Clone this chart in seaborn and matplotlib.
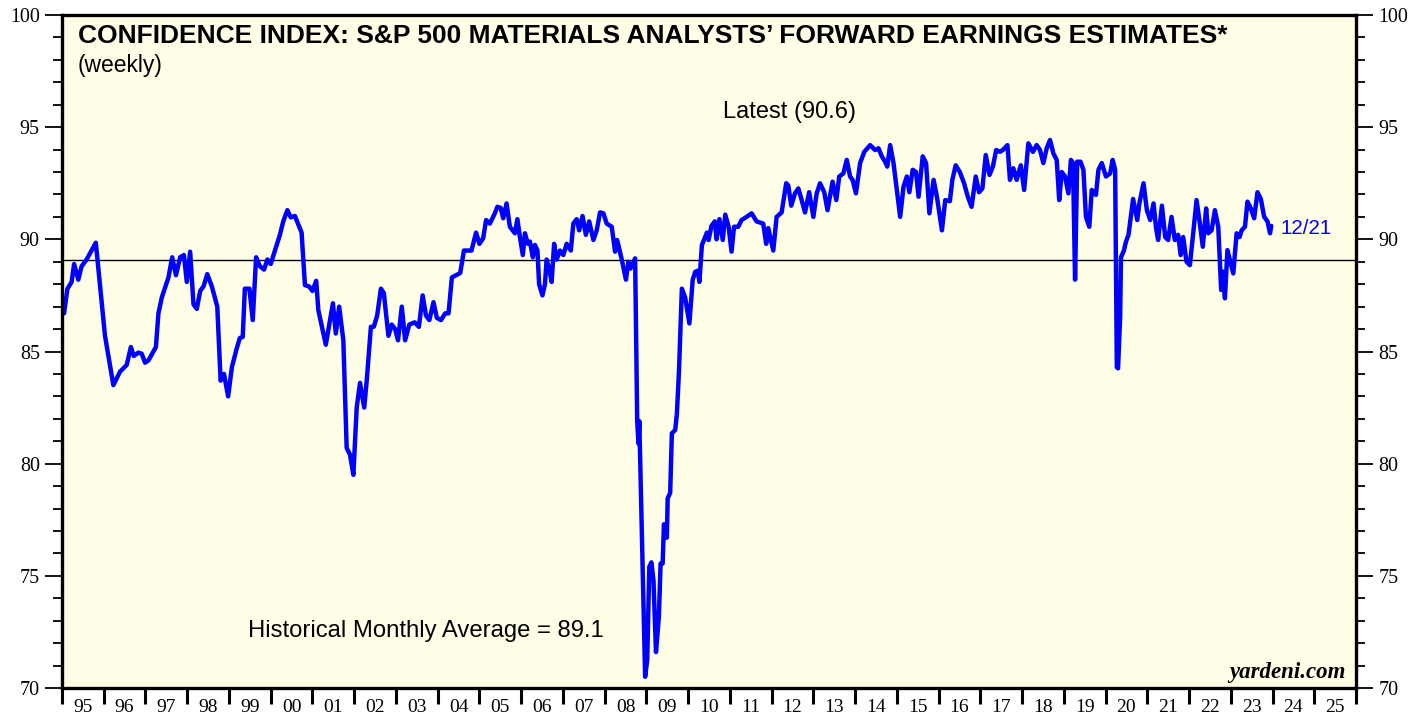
import matplotlib
matplotlib.use("Agg")
import matplotlib.pyplot as plt
import seaborn as sns
import pandas as pd
from matplotlib.ticker import FixedLocator, NullFormatter, FixedFormatter

# weekly readings (decimal year, index value)
week = [
    1995.05, 1995.13, 1995.23, 1995.29, 1995.39, 1995.47, 1995.59, 1995.81,
    1996.03, 1996.23, 1996.39, 1996.55, 1996.65, 1996.72, 1996.83, 1996.91,
    1996.99, 1997.07, 1997.25, 1997.31, 1997.39, 1997.55, 1997.64, 1997.73,
    1997.83, 1997.92, 1997.99, 1998.07, 1998.15, 1998.23, 1998.31, 1998.39,
    1998.48, 1998.59, 1998.72, 1998.80, 1998.88, 1998.98, 1999.07, 1999.18,
    1999.26, 1999.33, 1999.38, 1999.49, 1999.57, 1999.65, 1999.74, 1999.84,
    1999.92, 2000.00, 2000.22, 2000.30, 2000.40, 2000.48, 2000.58, 2000.74,
    2000.82, 2000.92, 2001.00, 2001.09, 2001.14, 2001.32, 2001.49, 2001.56,
    2001.64, 2001.74, 2001.82, 2001.90, 2001.98, 2002.06, 2002.14, 2002.24,
    2002.30, 2002.40, 2002.47, 2002.55, 2002.64, 2002.71, 2002.82, 2002.90,
    2002.98, 2003.05, 2003.14, 2003.22, 2003.32, 2003.45, 2003.55, 2003.64,
    2003.72, 2003.80, 2003.90, 2003.98, 2004.08, 2004.18, 2004.26, 2004.34,
    2004.44, 2004.54, 2004.63, 2004.73, 2004.81, 2004.92, 2005.00, 2005.09,
    2005.16, 2005.25, 2005.37, 2005.43, 2005.51, 2005.57, 2005.65, 2005.73,
    2005.85, 2005.91, 2005.97, 2006.04, 2006.09, 2006.16, 2006.21, 2006.28,
    2006.33, 2006.39, 2006.43, 2006.51, 2006.57, 2006.61, 2006.68, 2006.73,
    2006.79, 2006.85, 2006.93, 2007.01, 2007.09, 2007.19, 2007.25, 2007.33,
    2007.39, 2007.47, 2007.55, 2007.63, 2007.73, 2007.81, 2007.89, 2007.97,
    2008.05, 2008.17, 2008.25, 2008.30, 2008.41, 2008.51, 2008.57, 2008.62,
    2008.73, 2008.78, 2008.81, 2008.83, 2008.97, 2009.02, 2009.07, 2009.12,
    2009.17, 2009.23, 2009.30, 2009.34, 2009.39, 2009.42, 2009.49, 2009.51,
    2009.57, 2009.61, 2009.69, 2009.73, 2009.78, 2009.85, 2009.93, 2010.03,
    2010.11, 2010.17, 2010.23, 2010.27, 2010.33, 2010.38, 2010.45, 2010.49,
    2010.56, 2010.64, 2010.68, 2010.75, 2010.83, 2010.89, 2010.97, 2011.04,
    2011.10, 2011.20, 2011.28, 2011.40, 2011.52, 2011.64, 2011.80, 2011.87,
    2011.92, 2012.04, 2012.12, 2012.24, 2012.35, 2012.40, 2012.47, 2012.56,
    2012.64, 2012.72, 2012.80, 2012.90, 2013.00, 2013.08, 2013.16, 2013.26,
    2013.34, 2013.46, 2013.55, 2013.62, 2013.72, 2013.80, 2013.88, 2013.94,
    2014.02, 2014.12, 2014.22, 2014.36, 2014.48, 2014.56, 2014.64, 2014.72,
    2014.77, 2014.84, 2014.92, 2015.00, 2015.08, 2015.16, 2015.24, 2015.30,
    2015.38, 2015.46, 2015.52, 2015.62, 2015.70, 2015.78, 2015.88, 2015.96,
    2016.08, 2016.16, 2016.27, 2016.33, 2016.41, 2016.51, 2016.61, 2016.70,
    2016.79, 2016.89, 2016.97, 2017.05, 2017.13, 2017.22, 2017.30, 2017.38,
    2017.47, 2017.55, 2017.65, 2017.71, 2017.79, 2017.87, 2017.97, 2018.05,
    2018.15, 2018.26, 2018.35, 2018.43, 2018.51, 2018.59, 2018.67, 2018.75,
    2018.83, 2018.89, 2018.95, 2019.03, 2019.11, 2019.17, 2019.22, 2019.27,
    2019.32, 2019.40, 2019.47, 2019.53, 2019.61, 2019.67, 2019.77, 2019.83,
    2019.91, 2020.01, 2020.11, 2020.17, 2020.23, 2020.27, 2020.30, 2020.35,
    2020.37, 2020.44, 2020.49, 2020.55, 2020.66, 2020.76, 2020.81, 2020.91,
    2020.99, 2021.07, 2021.15, 2021.21, 2021.26, 2021.35, 2021.43, 2021.50,
    2021.58, 2021.66, 2021.74, 2021.80, 2021.86, 2021.94, 2022.02, 2022.10,
    2022.18, 2022.26, 2022.33, 2022.41, 2022.46, 2022.54, 2022.62, 2022.70,
    2022.77, 2022.81, 2022.86, 2022.92, 2023.00, 2023.06, 2023.14, 2023.21,
    2023.26, 2023.34, 2023.40, 2023.48, 2023.56, 2023.64, 2023.72, 2023.80,
    2023.88, 2023.94, 2023.97,
]
confidence = [
    86.7, 87.8, 88.1, 88.9, 88.2, 88.8, 89.1, 89.85,
    85.7, 83.5, 84.1, 84.4, 85.2, 84.8, 84.95, 84.9,
    84.5, 84.6, 85.2, 86.7, 87.4, 88.3, 89.2, 88.4,
    89.2, 89.3, 88.1, 89.45, 87.1, 86.9, 87.7, 87.9,
    88.45, 87.9, 87.0, 83.7, 84.0, 83.0, 84.3, 85.1,
    85.6, 85.65, 87.8, 87.8, 86.4, 89.2, 88.8, 88.65,
    89.1, 88.9, 90.2, 90.8, 91.3, 90.98, 91.04, 90.3,
    87.96, 87.9, 87.7, 88.15, 86.85, 85.3, 87.15, 85.8,
    87.0, 85.5, 80.7, 80.4, 79.5, 82.5, 83.6, 82.5,
    83.7, 86.1, 86.1, 86.6, 87.8, 87.6, 85.7, 86.2,
    86.0, 85.5, 87.0, 85.5, 86.2, 86.3, 86.1, 87.5,
    86.6, 86.4, 87.2, 86.5, 86.4, 86.7, 86.7, 88.3,
    88.4, 88.5, 89.5, 89.5, 89.5, 90.3, 89.8, 90.05,
    90.86, 90.7, 91.16, 91.45, 91.4, 90.94, 91.6, 90.56,
    90.27, 90.9, 90.1, 89.3, 90.27, 89.8, 89.9, 89.2,
    89.75, 89.5, 88.0, 87.5, 88.0, 89.1, 88.6, 88.1,
    89.8, 89.1, 89.5, 89.3, 89.8, 89.5, 90.7, 90.9,
    90.4, 91.04, 90.2, 90.8, 89.97, 90.4, 91.2, 91.16,
    90.7, 90.56, 89.45, 89.97, 89.1, 88.2, 89.0, 88.7,
    89.15, 81.9, 80.9, 81.9, 70.5, 71.24, 75.4, 75.6,
    74.8, 71.6, 73.2, 75.55, 75.55, 77.3, 76.7, 78.45,
    78.7, 81.35, 81.5, 82.2, 84.1, 87.8, 87.4, 86.25,
    88.2, 88.55, 88.6, 88.1, 89.75, 89.97, 90.3, 89.97,
    90.6, 90.8, 90.0, 90.9, 89.97, 91.1, 90.56, 89.45,
    90.56, 90.56, 90.86, 91.0, 91.16, 90.8, 90.7, 89.8,
    90.5, 89.5, 91.0, 91.2, 92.5, 92.4, 91.5, 92.05,
    92.27, 91.75, 91.2, 92.1, 91.0, 92.05, 92.5, 92.1,
    91.3, 92.57, 91.75, 92.8, 92.94, 93.54, 92.8, 92.65,
    92.05, 93.4, 93.9, 94.2, 93.98, 94.06, 93.7, 93.46,
    93.24, 94.2, 93.4, 92.2, 91.0, 92.35, 92.8, 92.1,
    93.1, 93.0, 91.9, 93.7, 93.4, 91.16, 92.65, 91.9,
    90.4, 91.75, 91.7, 92.65, 93.3, 93.0, 92.5, 91.9,
    91.45, 92.8, 92.1, 92.27, 93.76, 92.87, 93.24, 93.98,
    93.9, 94.0, 94.2, 92.65, 93.17, 92.65, 93.3, 92.2,
    94.28, 93.9, 94.2, 93.98, 93.4, 94.06, 94.43, 93.83,
    93.54, 91.75, 93.0, 92.8, 92.05, 93.54, 93.4, 88.2,
    93.46, 93.46, 93.1, 91.0, 90.56, 92.2, 91.98, 93.1,
    93.4, 92.8, 92.94, 93.54, 93.1, 84.3, 84.25, 86.55,
    89.2, 89.5, 89.9, 90.2, 91.8, 90.86, 91.6, 92.5,
    91.3, 90.86, 91.6, 90.5, 89.97, 91.5, 90.1, 89.97,
    91.0, 89.97, 90.2, 89.3, 90.1, 89.0, 88.85, 90.27,
    91.75, 90.7, 89.67, 91.38, 90.27, 90.4, 91.3, 90.56,
    87.74, 88.56, 87.37, 89.52, 88.93, 88.48, 90.27, 90.1,
    90.4, 90.56, 91.68, 91.38, 90.94, 92.1, 91.8, 91.0,
    90.8, 90.27, 90.6,
]
hist_avg = 89.1
latest = 90.6
year_labels = ["95", "96", "97", "98", "99", "00", "01", "02", "03", "04",
               "05", "06", "07", "08", "09", "10", "11", "12", "13", "14",
               "15", "16", "17", "18", "19", "20", "21", "22", "23", "24", "25"]

df = pd.DataFrame({"week": week, "confidence": confidence})

sns.set_style("white")
plt.rcParams["font.family"] = ["Liberation Sans", "DejaVu Sans"]
plt.rcParams["text.color"] = "black"
plt.rcParams["xtick.color"] = "black"
plt.rcParams["ytick.color"] = "black"

fig = plt.figure(figsize=(14.25, 7.19), dpi=100)
ax = fig.add_axes([62 / 1425, 31 / 719, 1294 / 1425, 673 / 719])
ax.set_facecolor("#fefee6")

sns.lineplot(data=df, x="week", y="confidence", ax=ax, color="#0000ff",
             linewidth=3.2, solid_joinstyle="round", solid_capstyle="round")
ax.axhline(hist_avg, color="black", linewidth=1.0, zorder=1)

ax.set_xlim(1995, 2026)
ax.set_ylim(70, 100)
ax.set_xlabel("")
ax.set_ylabel("")

# x axis: year boundary ticks, labels centred in each year
ax.xaxis.set_major_locator(FixedLocator(range(1995, 2027)))
ax.xaxis.set_major_formatter(NullFormatter())
ax.xaxis.set_minor_locator(FixedLocator([1995.5 + i for i in range(len(year_labels))]))
ax.xaxis.set_minor_formatter(FixedFormatter(year_labels))
ax.tick_params(axis="x", which="major", direction="out", length=11.5, width=2.2,
               bottom=True)
ax.tick_params(axis="x", which="minor", length=0, pad=8, labelsize=14,
               labelcolor="black", labelfontfamily="Liberation Serif", bottom=True)

# y axis on both sides
ax.yaxis.set_major_locator(FixedLocator(range(70, 101, 5)))
ax.yaxis.set_minor_locator(FixedLocator(range(70, 101)))
ax.tick_params(axis="y", which="major", direction="out", length=12, width=1.3,
               left=True, right=True, labelleft=True, labelright=True,
               labelsize=14.4, labelcolor="black", pad=4,
               labelfontfamily="Liberation Serif")
ax.tick_params(axis="y", which="minor", direction="out", length=6.5, width=1.3,
               left=True, right=True)

for side in ["left", "right", "top", "bottom"]:
    ax.spines[side].set_visible(True)
    ax.spines[side].set_linewidth(2.4)
    ax.spines[side].set_color("black")

ax.text(0.0124, 0.958,
        "CONFIDENCE INDEX: S&P 500 MATERIALS ANALYSTS\u2019 FORWARD EARNINGS ESTIMATES*",
        transform=ax.transAxes, fontsize=19, fontweight="bold", va="baseline", ha="left")
ax.text(0.0124, 0.916, "(weekly)", transform=ax.transAxes, fontsize=16.5,
        va="baseline", ha="left")
ax.text(2012.44, 95.68, f"Latest ({latest})", fontsize=17, ha="center", va="center")
ax.text(1999.46, 72.54, f"Historical Monthly Average = {hist_avg}", fontsize=17.2,
        ha="left", va="center")
ax.text(2024.18, 90.5, "12/21", fontsize=14.8, color="#0000ff", ha="left", va="center")
ax.text(0.992, 0.015, "yardeni.com", transform=ax.transAxes, fontsize=16.5,
        fontweight="bold", fontstyle="italic", family="Liberation Serif",
        ha="right", va="baseline")

fig.savefig("out.png", dpi=100, facecolor="white")
